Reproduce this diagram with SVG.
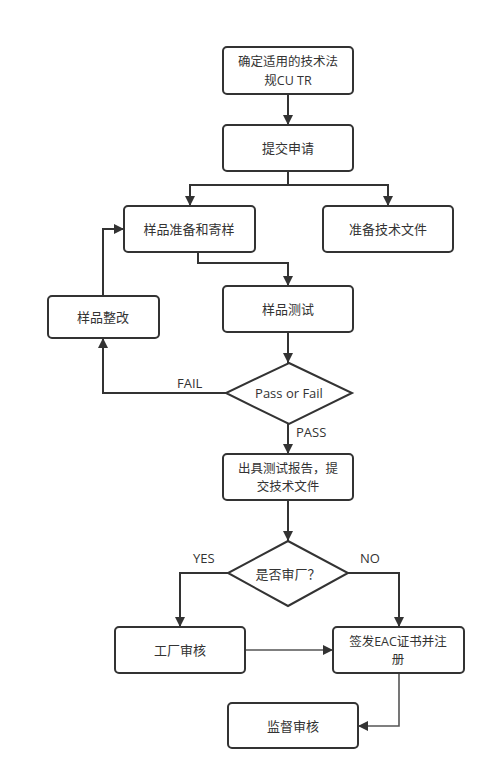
<svg xmlns="http://www.w3.org/2000/svg" width="496" height="781" viewBox="0 0 496 781">
<defs>
<style>
.box{fill:#fff;stroke:#333;stroke-width:2}
.t{font-family:"Open Sans","Noto Sans CJK SC",sans-serif;font-size:13px;fill:#333;text-anchor:middle;dominant-baseline:central}
.t2{font-family:"Open Sans","Noto Sans CJK SC",sans-serif;font-size:12.5px;fill:#333;text-anchor:middle;dominant-baseline:central}
.l{font-family:"Open Sans","Noto Sans CJK SC",sans-serif;font-size:13px;fill:#333}
.c{fill:none;stroke:#333;stroke-width:2}
.c2{fill:none;stroke:#555;stroke-width:1.6}
</style>
<marker id="a" viewBox="0 0 10 10" refX="10" refY="5" markerWidth="10" markerHeight="10" markerUnits="userSpaceOnUse" orient="auto">
<path d="M0,0 L10,5 L0,10 Z" fill="#333"/>
</marker>
</defs>
<rect width="496" height="781" fill="#fff"/>
<g id="connectors">
<path class="c" d="M288,94 V125" marker-end="url(#a)"/>
<path class="c" d="M288,171 V185 H190 V206" marker-end="url(#a)"/>
<path class="c" d="M288,185 H388 V206" marker-end="url(#a)"/>
<path class="c" d="M198,252 V263 H288 V286" marker-end="url(#a)"/>
<path class="c" d="M288,332 V363" marker-end="url(#a)"/>
<path class="c" d="M226,393 H103 V338" marker-end="url(#a)"/>
<path class="c" d="M103,296 V229 H124" marker-end="url(#a)"/>
<path class="c" d="M288,424 V454" marker-end="url(#a)"/>
<path class="c" d="M288,500 V541" marker-end="url(#a)"/>
<path class="c" d="M228,573 H180 V627" marker-end="url(#a)"/>
<path class="c" d="M348,573 H399 V627" marker-end="url(#a)"/>
<path class="c2" d="M245,650 H333" marker-end="url(#a)"/>
<path class="c2" d="M399,673 V726 H358" marker-end="url(#a)"/>
</g>
<g id="n1"><rect class="box" x="223" y="47" width="130" height="47" rx="4"/><text class="t2" x="288" y="61.5">确定适用的技术法</text><text class="t2" x="288" y="80">规CU TR</text></g>
<g id="n2"><rect class="box" x="223" y="125" width="130" height="46" rx="4"/><text class="t" x="288" y="148">提交申请</text></g>
<g id="n3"><rect class="box" x="124" y="206" width="131" height="46" rx="4"/><text class="t" x="189" y="229">样品准备和寄样</text></g>
<g id="n4"><rect class="box" x="323" y="206" width="130" height="46" rx="4"/><text class="t" x="388" y="229">准备技术文件</text></g>
<g id="n5"><rect class="box" x="223" y="286" width="130" height="46" rx="4"/><text class="t" x="288" y="309">样品测试</text></g>
<g id="n6"><rect class="box" x="48" y="296" width="111" height="42" rx="4"/><text class="t" x="103" y="317">样品整改</text></g>
<g id="n7"><path class="box" d="M289,363 L352,393 L289,424 L226,393 Z"/><text class="t" x="289" y="393">Pass or Fail</text></g>
<g id="n8"><rect class="box" x="223" y="454" width="130" height="46" rx="4"/><text class="t2" x="288" y="468">出具测试报告，提</text><text class="t2" x="288" y="486.5">交技术文件</text></g>
<g id="n9"><path class="box" d="M288,541 L348,573 L288,606 L228,573 Z"/><text class="t" x="288" y="574">是否审厂？</text></g>
<g id="n10"><rect class="box" x="115" y="627" width="130" height="46" rx="4"/><text class="t" x="180" y="650">工厂审核</text></g>
<g id="n11"><rect class="box" x="333" y="627" width="131" height="46" rx="4"/><text class="t2" x="398" y="641">签发EAC证书并注</text><text class="t2" x="398" y="659.5">册</text></g>
<g id="n12"><rect class="box" x="228" y="703" width="130" height="45" rx="4"/><text class="t" x="293" y="726">监督审核</text></g>
<g id="labels">
<text class="l" x="177" y="388">FAIL</text>
<text class="l" x="296" y="437">PASS</text>
<text class="l" x="193" y="563">YES</text>
<text class="l" x="360" y="563">NO</text>
</g>
</svg>
